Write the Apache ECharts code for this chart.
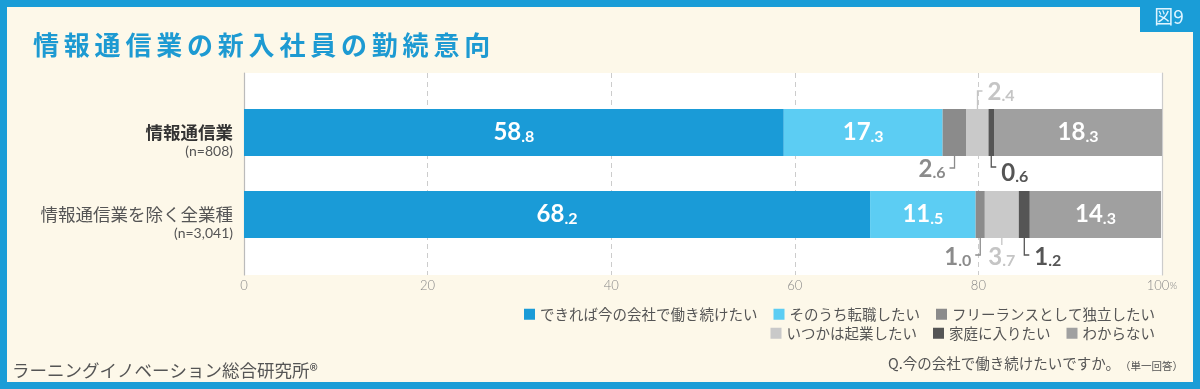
<!DOCTYPE html>
<html><head><meta charset="utf-8">
<script src="https://cdn.jsdelivr.net/npm/echarts@6/dist/echarts.min.js"></script>
<style>html,body{margin:0;padding:0;background:#fdf8e9;}#c{width:1200px;height:389px;}</style>
</head><body><div id="c"></div>
<script>
// ---- data ----
const categories = ['情報通信業', '情報通信業を除く全業種'];
const sampleSizes = ['(n=808)', '(n=3,041)'];
const seriesNames = ['できれば今の会社で働き続けたい', 'そのうち転職したい', 'フリーランスとして独立したい', 'いつかは起業したい', '家庭に入りたい', 'わからない'];
const stayValues = [58.8, 68.2];
const changeJobValues = [17.3, 11.5];
const freelanceValues = [2.6, 1.0];
const startupValues = [2.4, 3.7];
const homeValues = [0.6, 1.2];
const unknownValues = [18.3, 14.3];
const xTicks = [0, 20, 40, 60, 80, 100];

const titleText = '情報通信業の新入社員の勤続意向';
const badgeText = '図9';
const sourceText = 'ラーニングイノベーション総合研究所®';
const questionText = 'Q.今の会社で働き続けたいですか。';
const questionNote = '（単一回答）';

// ---- styles ----
const seriesValues = [stayValues, changeJobValues, freelanceValues, startupValues, homeValues, unknownValues];
const colors = ['#1a9bd7', '#5ccdf3', '#8b8b8b', '#c9c9c9', '#555555', '#a0a0a0'];
const insideLabel = [true, true, false, false, false, true];
const CJK = '"Noto Sans CJK JP", "Noto Sans", sans-serif';
const NUM = 'Lato, "Noto Sans", sans-serif';
const BLUE = '#1a9dd7';

// leader annotation layout for small segments (style only; values come from data)
const leaders = [
  {s: 2, c: 0, dir: 'down', side: 'left',   len: 12, ly: 13, color: '#8b8b8b'},
  {s: 3, c: 0, dir: 'up',   side: 'right',  len: 18, ly: 17, color: '#c5c5c5'},
  {s: 4, c: 0, dir: 'down', side: 'right',  len: 11, ly: 17, color: '#555555'},
  {s: 2, c: 1, dir: 'down', side: 'left',   len: 17, ly: 19, color: '#8b8b8b'},
  {s: 3, c: 1, dir: 'down', side: 'center', len: 7,  ly: 19, color: '#c5c5c5'},
  {s: 4, c: 1, dir: 'down', side: 'right',  len: 17, ly: 19, color: '#555555'}
];

function numRich(v) {
  const p = v.toFixed(1).split('.');
  return '{a|' + p[0] + '}{b|.' + p[1] + '}';
}
function richFor(color) {
  return {
    a: {fontSize: 24, fontWeight: 'bold', fontFamily: NUM, color: color, fill: color, lineHeight: 24, verticalAlign: 'bottom'},
    b: {fontSize: 16, fontWeight: 'bold', fontFamily: NUM, color: color, fill: color, lineHeight: 21, verticalAlign: 'bottom'}
  };
}

const chart = echarts.init(document.getElementById('c'), null, {renderer: 'canvas'});

const series = seriesValues.map((vals, i) => ({
  name: seriesNames[i],
  type: 'bar',
  stack: 'total',
  xAxisIndex: 0,
  yAxisIndex: 0,
  barWidth: 47,
  data: vals,
  itemStyle: {color: colors[i]},
  label: {
    show: insideLabel[i],
    position: 'inside',
    formatter: p => numRich(p.value),
    rich: richFor('#ffffff')
  },
  emphasis: {disabled: true}
}));

const legendText = {fontSize: 14.5, color: '#555555', fontFamily: CJK};

const option = {
  backgroundColor: '#fdf8e9',
  animation: false,
  grid: [
    {left: 244, right: 38, top: 91.5, height: 164, show: false, containLabel: false},
    {left: 244, right: 38, top: 73, height: 202, show: true, backgroundColor: '#ffffff', borderWidth: 0, containLabel: false}
  ],
  xAxis: [
    {gridIndex: 0, type: 'value', min: 0, max: 100, show: false},
    {gridIndex: 1, type: 'value', min: 0, max: 100, interval: 20,
      axisLine: {show: false}, axisTick: {show: false},
      splitLine: {show: true, showMinLine: false, showMaxLine: false, lineStyle: {color: '#cccccc', type: [5, 4], width: 1}},
      axisLabel: {
        margin: 4,
        formatter: v => v === 100 ? '{v|100}{p|%}' : '{v|' + v + '}',
        rich: {
          v: {fontSize: 13, color: '#888888', fontFamily: NUM, fontWeight: 300},
          p: {fontSize: 10, color: '#888888', fontFamily: NUM, fontWeight: 300}
        }
      }
    }
  ],
  yAxis: [
    {gridIndex: 0, type: 'category', data: categories, inverse: true,
      axisLine: {show: false}, axisTick: {show: false}, splitLine: {show: false},
      axisLabel: {
        margin: 11,
        formatter: (v, i) => '{sp| }\n{' + (i === 0 ? 'n0' : 'n1') + '|' + v + '}\n{s|' + sampleSizes[i] + '}',
        rich: {
          sp: {fontSize: 12, lineHeight: 18},
          n0: {fontSize: 17.5, fontWeight: 'bold', color: '#333333', fontFamily: CJK, lineHeight: 20},
          n1: {fontSize: 17.5, fontWeight: 'normal', color: '#555555', fontFamily: CJK, lineHeight: 20},
          s: {fontSize: 14, color: '#555555', fontFamily: NUM, lineHeight: 18}
        }
      }
    },
    {gridIndex: 1, type: 'value', position: 'left', min: 0, max: 1,
      axisLine: {show: true, lineStyle: {color: '#bbbbbb', width: 1.2}}, axisTick: {show: false},
      axisLabel: {show: false}, splitLine: {show: false}},
    {gridIndex: 1, type: 'value', position: 'right', min: 0, max: 1,
      axisLine: {show: true, lineStyle: {color: '#cccccc', width: 1.2}}, axisTick: {show: false},
      axisLabel: {show: false}, splitLine: {show: false}}
  ],
  legend: [
    {data: seriesNames.slice(0, 3), right: 40, top: 302, icon: 'rect', itemWidth: 11, itemHeight: 11, itemGap: 16, textStyle: legendText, selectedMode: false},
    {data: seriesNames.slice(3), right: 40, top: 321, icon: 'rect', itemWidth: 11, itemHeight: 11, itemGap: 16, textStyle: legendText, selectedMode: false}
  ],
  series: series
};

chart.setOption(option);

// title drawn with per-character spacing (rich tokens with right padding)
const titleRich = titleText.split('').map(ch => '{c|' + ch + '}').join('');

// ---- static decorations + leader annotations computed from data via axes ----
const els = [
  {type: 'rect', shape: {x: 0, y: 0, width: 1200, height: 7}, style: {fill: BLUE}, silent: true},
  {type: 'rect', shape: {x: 0, y: 0, width: 7, height: 389}, style: {fill: BLUE}, silent: true},
  {type: 'rect', shape: {x: 1193, y: 0, width: 7, height: 389}, style: {fill: BLUE}, silent: true},
  {type: 'rect', shape: {x: 0, y: 382, width: 1200, height: 7}, style: {fill: BLUE}, silent: true},
  {type: 'rect', shape: {x: 1140, y: 0, width: 60, height: 32}, style: {fill: BLUE}, silent: true},
  {type: 'text', style: {x: 1169, y: 17, text: badgeText, align: 'center', verticalAlign: 'middle', fill: '#dff4ff', font: '19px ' + CJK}, silent: true},
  {type: 'text', style: {x: 33, y: 45, text: titleRich, align: 'left', verticalAlign: 'middle',
    rich: {c: {fontSize: 26, fontWeight: 'bold', fontFamily: CJK, fill: '#1d9ad2', color: '#1d9ad2', padding: [0, 4.8, 0, 0], lineHeight: 30}}}, silent: true},
  {type: 'text', style: {x: 12, y: 370, text: sourceText, align: 'left', verticalAlign: 'middle', fill: '#555555', font: '17.5px ' + CJK}, silent: true},
  {type: 'text', style: {x: 1183, y: 362, align: 'right', verticalAlign: 'middle',
    text: '{q|' + questionText + '}{n|' + questionNote + '}',
    rich: {
      q: {fontSize: 14.5, fontFamily: CJK, fill: '#555555', color: '#555555', verticalAlign: 'bottom', lineHeight: 18},
      n: {fontSize: 10.5, fontFamily: CJK, fill: '#555555', color: '#555555', verticalAlign: 'bottom', lineHeight: 16}
    }}, silent: true}
];

const halfBar = 47 / 2;
leaders.forEach(L => {
  let start = 0;
  for (let k = 0; k < L.s; k++) start += seriesValues[k][L.c];
  const v = seriesValues[L.s][L.c];
  const mid = start + v / 2;
  const pt = chart.convertToPixel({gridIndex: 0}, [mid, L.c]);
  const cx = pt[0];
  const edge = L.dir === 'up' ? pt[1] - halfBar : pt[1] + halfBar;
  const sign = L.dir === 'up' ? -1 : 1;
  const yCorner = edge + sign * L.len;
  const yLabel = edge + sign * L.ly;
  let points, lx, align;
  if (L.side === 'left') {
    points = [[cx, edge], [cx, yCorner], [cx - 5, yCorner]]; lx = cx - 9; align = 'right';
  } else if (L.side === 'right') {
    points = [[cx, edge], [cx, yCorner], [cx + 5, yCorner]]; lx = cx + 10; align = 'left';
  } else {
    points = [[cx, edge], [cx, yCorner]]; lx = cx; align = 'center';
  }
  els.push({type: 'polyline', shape: {points: points}, style: {stroke: L.color, lineWidth: 1.3, fill: null}, silent: true});
  els.push({type: 'text', style: {x: lx, y: yLabel, text: numRich(v), rich: richFor(L.color), align: align, verticalAlign: 'middle'}, silent: true});
});

chart.setOption({graphic: els});
</script>
</body></html>
